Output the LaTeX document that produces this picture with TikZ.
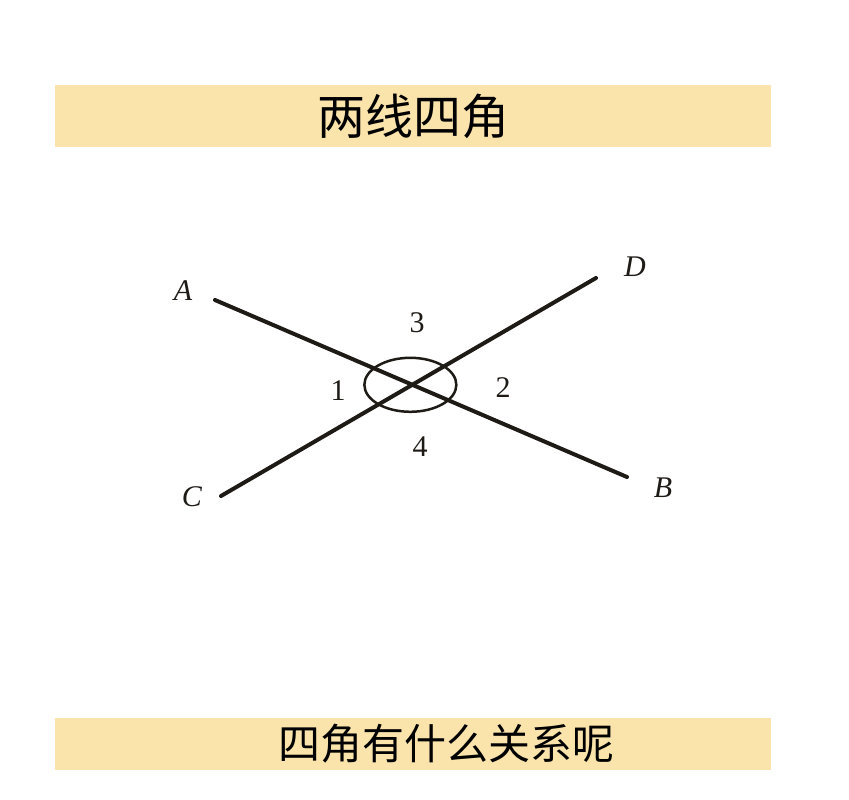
\documentclass[tikz,border=0pt]{standalone}
\usepackage{fontspec}
\setmainfont{Liberation Serif}
\newfontfamily\cjk{Noto Sans CJK SC}
\definecolor{bandcol}{RGB}{250,228,172}
\definecolor{inkcol}{RGB}{30,26,22}
\tikzset{
	band/.style={fill=bandcol, draw=none},
	lineseg/.style={draw=inkcol, line width=4pt, line cap=round},
	ptlabel/.style={font=\fontsize{30}{30}\selectfont\itshape, text=inkcol},
	anglabel/.style={font=\fontsize{30}{30}\selectfont, text=inkcol}
}
\begin{document}
\begin{tikzpicture}[x=1pt, y=-1pt]
	\useasboundingbox[fill=white] (0,0) rectangle (849,800);
	% title and question bands
	\fill[band] (55,85) rectangle (771,147);
	\node (title) at (413,116) {\cjk\fontsize{48}{48}\selectfont 两线四角};
	\fill[band] (55,718) rectangle (771,770);
	\node (question) at (446,744) {\cjk\fontsize{42}{42}\selectfont 四角有什么关系呢};
	% the two lines
	\coordinate (A) at (215,300);
	\coordinate (B) at (627,477);
	\coordinate (C) at (221,496);
	\coordinate (D) at (596,278);
	\coordinate (O) at (intersection of A--B and C--D);
	\draw[lineseg] (A) -- (B);
	\draw[lineseg] (C) -- (D);
	\draw[draw=inkcol, line width=2.5pt] ([xshift=-2pt]O) ellipse [x radius=46, y radius=27];
	% point names
	\node[ptlabel] (nA) at (183,291) {A};
	\node[ptlabel] (nB) at (663,488) {B};
	\node[ptlabel] (nC) at (192,497) {C};
	\node[ptlabel] (nD) at (635,267) {D};
	% angle numbers
	\node[anglabel] (n1) at (338,391) {1};
	\node[anglabel] (n2) at (503,388) {2};
	\node[anglabel] (n3) at (417,323) {3};
	\node[anglabel] (n4) at (420,447) {4};
\end{tikzpicture}
\end{document}
